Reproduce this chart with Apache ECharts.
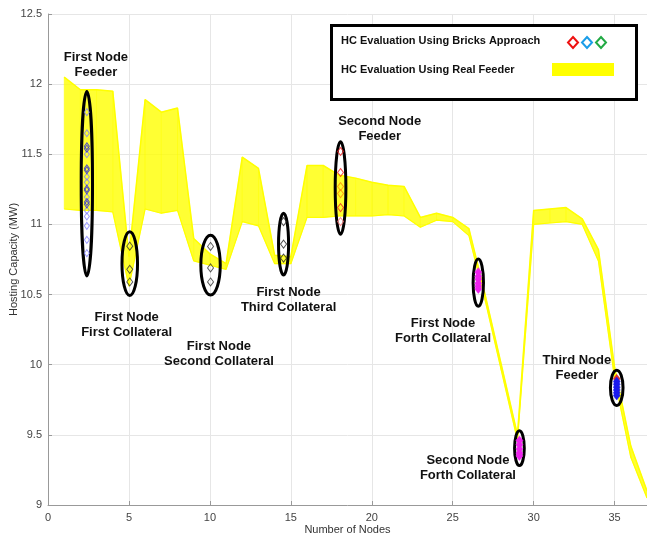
<!DOCTYPE html>
<html>
<head>
<meta charset="utf-8">
<script src="https://cdn.jsdelivr.net/npm/echarts@6/dist/echarts.min.js"></script>
<style>html,body{margin:0;padding:0;background:#fff;overflow:hidden;}#c{width:647px;height:535px;}</style>
</head>
<body>
<div id="c"></div>
<script>
// ---- Data ----
const nodes = [1,2,3,4,5,6,7,8,9,10,11,12,13,14,15,16,17,18,19,20,21,22,23,24,25,26,27,28,29,30,31,32,33,34,35,36,37];
const realUpper = [12.05,11.96,11.96,11.95,10.77,11.89,11.80,11.83,10.90,10.79,10.72,11.48,11.40,10.78,10.77,11.42,11.42,11.35,11.33,11.30,11.28,11.27,11.05,11.08,11.05,10.97,10.50,10.00,9.50,11.10,11.11,11.12,11.04,10.82,9.98,9.42,9.10];
const realLower = [11.11,11.10,11.10,11.09,10.56,11.11,11.08,11.10,10.74,10.71,10.68,11.02,10.99,10.72,10.72,11.05,11.05,11.06,11.06,11.06,11.07,11.06,10.98,11.03,11.02,10.92,10.46,9.96,9.46,11.00,11.01,11.02,11.00,10.74,9.90,9.34,9.05];

const node1FeederX = 2.4;
const node1FeederLight = [11.80,11.65,11.50,11.34,11.30,11.195,11.10,11.057,10.99,10.89,10.795];
const node1FeederDark = [11.557,11.54,11.40,11.386,11.255,11.243,11.16,11.143];
const collat1X = 5.05, collat1 = [10.845,10.68,10.59];
const collat2X = 10.04, collat2 = [10.843,10.69,10.59];
const collat3X = 14.55, collat3 = [11.02,10.86,10.76];
const node2FeederX = 18.07;
const node2FeederRed = [11.52,11.37,11.12];
const node2FeederPink = [11.02];
const node2FeederOrange = [11.27,11.22];
const collat4aX = 26.58, collat4a = [10.66,10.63,10.61,10.58,10.56,10.54];
const collat4bX = 29.12, collat4b = [9.46,9.43,9.40,9.37,9.35];
const node3FeederX = 35.13, node3FeederTop = [9.90], node3Feeder = [9.88,9.86,9.84,9.82,9.80,9.78];

// ellipses: [cx, cy, rx, ry] in data units
const ellipses = [
  [2.4, 11.29, 0.35, 0.657],
  [5.05, 10.72, 0.48, 0.227],
  [10.04, 10.71, 0.60, 0.213],
  [14.55, 10.86, 0.31, 0.22],
  [18.07, 11.26, 0.33, 0.33],
  [26.58, 10.585, 0.32, 0.168],
  [29.12, 9.405, 0.30, 0.124],
  [35.13, 9.835, 0.39, 0.126]
];
const annotations = [
  [2.96, 12.14, 'First Node\nFeeder'],
  [4.86, 10.286, 'First Node\nFirst Collateral'],
  [10.56, 10.079, 'First Node\nSecond Collateral'],
  [14.86, 10.463, 'First Node\nThird Collateral'],
  [20.49, 11.679, 'Second Node\nFeeder'],
  [24.40, 10.244, 'First Node\nForth Collateral'],
  [25.94, 9.266, 'Second Node\nForth Collateral'],
  [32.67, 9.98, 'Third Node\nFeeder']
];
const xTicks = {min:0, max:37, interval:5};
const yTicks = {min:9, max:12.5, interval:0.5};
const legendTexts = ['HC Evaluation Using Bricks Approach','HC Evaluation Using Real Feeder'];

// ---- build ----
const FONT = '"Liberation Sans", Arial, sans-serif';
const pair = (xs, ys) => xs.map((x,i)=>[x, ys[i]]);
const col = (x, ys) => ys.map(y=>[x,y]);
const bandData = nodes.map((x,i)=>[x, realLower[i], realUpper[i]]);

function markers(name, data, color, filled, size){
  return {
    type:'scatter', name, data, symbol:'diamond', symbolSize:size || [5,7], z:8,
    itemStyle: filled ? {color: color, borderColor: color, borderWidth: 0.5, opacity:1}
                      : {color:'rgba(0,0,0,0)', borderColor: color, borderWidth: 1},
    emphasis:{disabled:true}, silent:true
  };
}

const chart = echarts.init(document.getElementById('c'), null, {renderer:'canvas'});
chart.setOption({
  animation:false,
  textStyle:{fontFamily:FONT},
  grid:{left:48, top:14, right:0, bottom:30, containLabel:false, outerBoundsMode:'none'},
  xAxis:{
    type:'value', min:xTicks.min, max:xTicks.max, interval:xTicks.interval,
    name:'Number of Nodes', nameLocation:'middle', nameGap:19, nameMoveOverlap:false,
    nameTextStyle:{fontSize:11, color:'#333', fontFamily:FONT, verticalAlign:'top'},
    axisLine:{onZero:false, lineStyle:{color:'#999', width:1}},
    axisTick:{inside:true, length:4, lineStyle:{color:'#999'}},
    axisLabel:{fontSize:11, color:'#444', margin:7, showMaxLabel:false, fontFamily:FONT},
    splitLine:{show:true, lineStyle:{color:'#e6e6e6', width:1}}
  },
  yAxis:{
    type:'value', min:yTicks.min, max:yTicks.max, interval:yTicks.interval,
    name:'Hosting Capacity (MW)', nameLocation:'middle', nameGap:34, nameMoveOverlap:false,
    nameTextStyle:{fontSize:11, color:'#333', fontFamily:FONT, verticalAlign:'middle'},
    axisLine:{show:true, lineStyle:{color:'#999', width:1}},
    axisTick:{show:true, inside:true, length:4, lineStyle:{color:'#999'}},
    axisLabel:{fontSize:11, color:'#444', margin:6, fontFamily:FONT},
    splitLine:{show:true, lineStyle:{color:'#e6e6e6', width:1}}
  },
  series:[
    {type:'custom', name:'band', data: bandData, z:2, silent:true, clip:true,
     renderItem:function(params, api){
       const i = params.dataIndex;
       if (i >= bandData.length - 1) return null;
       const a = bandData[i], b = bandData[i+1];
       const pts = [api.coord([a[0], a[2]]), api.coord([b[0], b[2]]), api.coord([b[0], b[1]]), api.coord([a[0], a[1]])];
       return {type:'polygon', shape:{points:pts}, style:{fill:'rgba(255,255,0,0.8)', stroke:'rgba(255,255,0,0.8)', lineWidth:0.6}};
     }},
    {type:'line', name:'lower', data: pair(nodes, realLower), symbol:'none',
     lineStyle:{color:'#ffff00', width:1.2}, z:3, silent:true},
    {type:'line', name:'upper', data: pair(nodes, realUpper), symbol:'none',
     lineStyle:{color:'#ffff00', width:1.5}, z:3, silent:true},
    markers('n1l', col(node1FeederX, node1FeederLight), '#8080ff', false),
    markers('n1d', col(node1FeederX, node1FeederDark), '#2a2ad8', false),
    markers('c1', col(collat1X, collat1), '#333333', false, [6,8]),
    markers('c2', col(collat2X, collat2), '#333333', false, [6,8]),
    markers('c3', col(collat3X, collat3), '#222222', false, [6,8]),
    markers('n2r', col(node2FeederX, node2FeederRed), '#f02020', false, [6,8]),
    markers('n2p', col(node2FeederX, node2FeederPink), '#ff7070', false, [6,8]),
    markers('n2o', col(node2FeederX, node2FeederOrange), '#ff8a00', false, [6,8]),
    markers('c4a', col(collat4aX, collat4a), '#ee22ee', true, [7,9]),
    markers('c4b', col(collat4bX, collat4b), '#ee22ee', true, [7,9]),
    markers('n3t', col(node3FeederX, node3FeederTop), '#e03030', true, [7,9]),
    markers('n3', col(node3FeederX, node3Feeder), '#1a1aee', true, [7,9]),
    {type:'custom', name:'ellipses', data: ellipses, z:6, silent:true,
     renderItem:function(params, api){
       const c = api.coord([api.value(0), api.value(1)]);
       const s = api.size([api.value(2), api.value(3)]);
       return {type:'ellipse', shape:{cx:c[0], cy:c[1], rx:s[0], ry:s[1]},
               style:{fill:null, stroke:'#000', lineWidth:3}};
     }},
    {type:'custom', name:'annotations', data: annotations.map(a=>[a[0], a[1]]), z:7, silent:true,
     renderItem:function(params, api){
       const c = api.coord([api.value(0), api.value(1)]);
       return {type:'text', x:c[0], y:c[1], style:{text: annotations[params.dataIndex][2],
               align:'center', verticalAlign:'middle', fontFamily:FONT, fontWeight:'bold', fontSize:13,
               lineHeight:15, fill:'#111'}};
     }}
  ],
  graphic:[
    {type:'rect', z:100, shape:{x:331.5, y:25.5, width:305, height:74}, style:{fill:'#fff', stroke:'#000', lineWidth:3}},
    {type:'text', z:101, x:341, y:41, style:{text:legendTexts[0], fontFamily:FONT, fontWeight:'bold', fontSize:11, fill:'#111', verticalAlign:'middle'}},
    {type:'text', z:101, x:341, y:70, style:{text:legendTexts[1], fontFamily:FONT, fontWeight:'bold', fontSize:11, fill:'#111', verticalAlign:'middle'}},
    {type:'polygon', z:101, shape:{points:[[573,37],[578,42.5],[573,48],[568,42.5]]}, style:{fill:null, stroke:'#ee1111', lineWidth:2}},
    {type:'polygon', z:101, shape:{points:[[587,37],[592,42.5],[587,48],[582,42.5]]}, style:{fill:null, stroke:'#1a9de8', lineWidth:2}},
    {type:'polygon', z:101, shape:{points:[[601,37],[606,42.5],[601,48],[596,42.5]]}, style:{fill:null, stroke:'#22aa44', lineWidth:2}},
    {type:'rect', z:101, shape:{x:552, y:63, width:62, height:13}, style:{fill:'#ffff00'}}
  ]
});
</script>
</body>
</html>
